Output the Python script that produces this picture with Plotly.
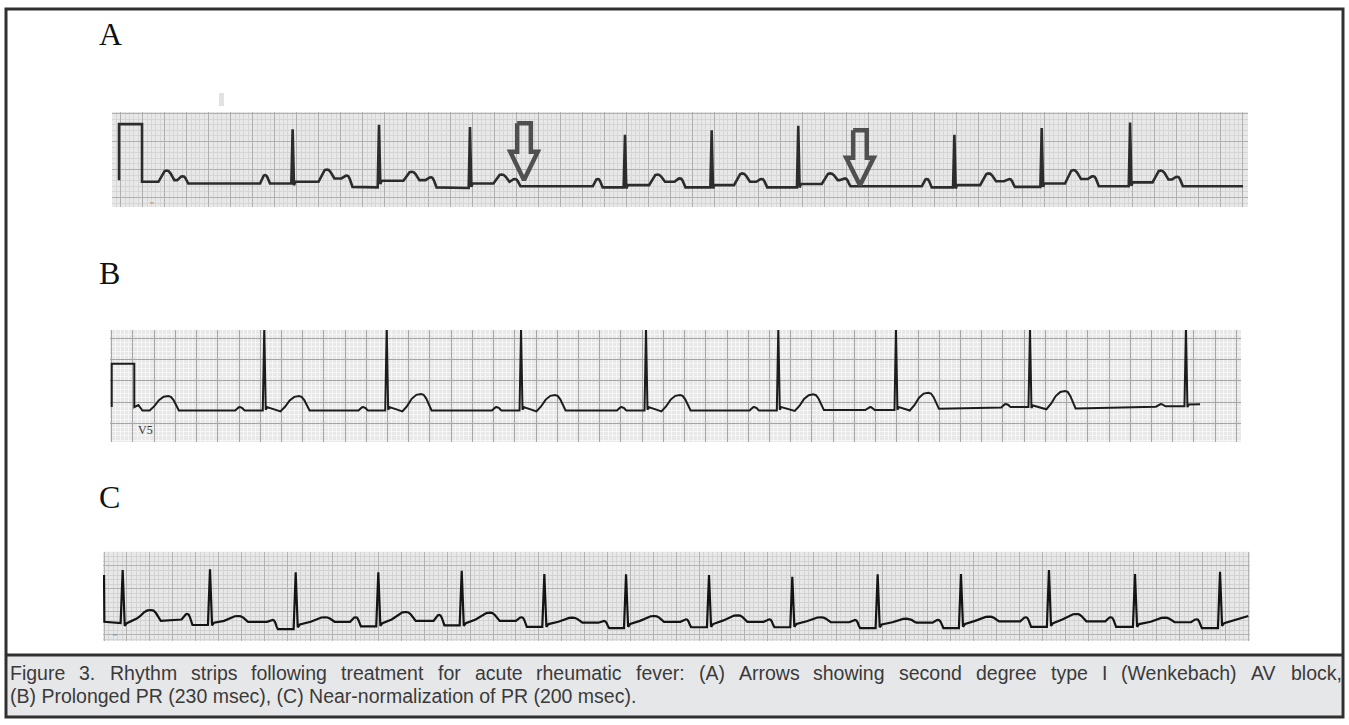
import plotly.graph_objects as go

W, H = 1349, 725

# ---------------- Strip A : Wenkebach (time in ms, amplitude in mV) ----------------
A_cal = [-15, 194, 0.81, -0.19, -0.22]          # start, end, top, left foot, right foot
A_kind = ["T", "U", "P", "R", "T", "U", "R", "T", "U", "R", "T", "U", "P", "R", "T", "U",
          "R", "T", "U", "R", "T", "U", "P", "R", "T", "U", "R", "T", "U", "R", "T", "U"]
A_t = [418, 564, 1312, 1563, 1873, 2057, 2348, 2645, 2821, 3175, 3463, 3584, 4336, 4584, 4878, 5084,
       5372, 5650, 5827, 6159, 6448, 6584, 7327, 7578, 7887, 8078, 8372, 8659, 8841, 9175, 9454, 9605]
A_peak = [-0.02, -0.12, -0.10, 0.72, 0.00, -0.11, 0.80, -0.04, -0.14, 0.76, -0.09, -0.17, -0.17, 0.62, -0.09, -0.16,
          0.70, -0.07, -0.17, 0.78, -0.07, -0.16, -0.17, 0.62, -0.07, -0.17, 0.74, -0.01, -0.12, 0.84, -0.02, -0.13]
A_fl = [-0.22, -0.19, -0.25, -0.25, -0.22, -0.16, -0.32, -0.20, -0.19, -0.33, -0.25, -0.22, -0.30, -0.32, -0.28, -0.22,
        -0.32, -0.28, -0.22, -0.32, -0.26, -0.19, -0.30, -0.32, -0.28, -0.21, -0.31, -0.25, -0.17, -0.30, -0.23, -0.18]
A_fr = [-0.19, -0.25, -0.25, -0.22, -0.16, -0.31, -0.20, -0.19, -0.32, -0.25, -0.22, -0.30, -0.32, -0.28, -0.22, -0.32,
        -0.28, -0.22, -0.32, -0.26, -0.19, -0.30, -0.32, -0.28, -0.21, -0.31, -0.25, -0.17, -0.30, -0.23, -0.18, -0.30]
A_end = [10202, -0.30]
# dropped-beat arrows (centre time, top, tip)
ARROW_t = [3666, 6720]
ARROW_top = [0.825, 0.70]
ARROW_tip = [-0.19, -0.28]

# ---------------- Strip B : prolonged PR ----------------
B_cal = [0, 213, 0.40, -0.62, -0.62]
B_kind = ["K", "K", "T", "P", "R", "T", "P", "R", "T", "P", "R", "T", "P", "R", "T", "P", "R",
          "T", "P", "R", "T", "P", "R", "T", "P", "R", "K"]
B_t = [251, 290, 533, 1209, 1438, 1765, 2371, 2592, 2915, 3629, 3858, 4178, 4807, 5036, 5356, 6057, 6283,
       6613, 7147, 7392, 7697, 8429, 8655, 8985, 9887, 10125, 10258]
B_peak = [-0.57, -0.70, -0.36, -0.62, 1.25, -0.36, -0.62, 1.25, -0.31, -0.62, 1.25, -0.335, -0.62, 1.25, -0.335, -0.62, 1.25,
          -0.32, -0.62, 1.25, -0.28, -0.55, 1.25, -0.24, -0.55, 1.25, -0.55]
B_fl = [-0.57, -0.70, -0.70, -0.70, -0.70, -0.72, -0.70, -0.70, -0.72, -0.70, -0.70, -0.72, -0.70, -0.70, -0.72, -0.70, -0.70,
        -0.71, -0.69, -0.69, -0.70, -0.63, -0.62, -0.67, -0.61, -0.60, -0.55]
B_fr = [-0.57, -0.70, -0.70, -0.70, -0.62, -0.70, -0.70, -0.62, -0.70, -0.70, -0.62, -0.70, -0.70, -0.62, -0.70, -0.70, -0.62,
        -0.69, -0.69, -0.62, -0.66, -0.62, -0.58, -0.65, -0.60, -0.56, -0.55]

# ---------------- Strip C : near-normal PR ----------------
C_kind = ["K", "K", "R", "T", "P", "R", "T", "P", "R", "T", "P", "R", "T", "P", "R", "T", "P", "R",
          "T", "P", "R", "T", "P", "R", "T", "P", "R", "T", "P", "R", "T", "P", "R", "T", "P", "R",
          "T", "P", "R", "T", "P", "R", "K"]
C_t = [0, 3, 163, 411, 728, 926, 1174, 1474, 1675, 1931, 2200, 2397, 2639, 2930, 3126, 3373, 3650, 3848,
       4096, 4370, 4562, 4809, 5086, 5287, 5538, 5814, 6015, 6266, 6563, 6761, 7015, 7291, 7489, 7737, 8057, 8258,
       8500, 8800, 9010, 9272, 9549, 9753, 10000]
C_peak = [0.80, -0.22, 0.911, 0.037, -0.05, 0.926, -0.094, -0.181, 0.861, -0.122, -0.122, 0.861, -0.007, -0.072, 0.896,
          -0.022, -0.122, 0.824, -0.131, -0.203, 0.817, -0.094, -0.166, 0.802, -0.079, -0.166, 0.765, -0.122, -0.181,
          0.817, -0.153, -0.181, 0.824, -0.109, -0.122, 0.911, -0.050, -0.122, 0.824, -0.131, -0.166, 0.874, -0.094]
C_fl = [0.80, -0.22, -0.25, -0.15, -0.17, -0.29, -0.20, -0.22, -0.38, -0.22, -0.22, -0.32, -0.17, -0.20, -0.30,
        -0.17, -0.20, -0.33, -0.22, -0.24, -0.36, -0.20, -0.22, -0.34, -0.19, -0.22, -0.34, -0.21, -0.23,
        -0.36, -0.23, -0.24, -0.36, -0.20, -0.21, -0.33, -0.17, -0.21, -0.33, -0.22, -0.23, -0.36, -0.094]
C_fr = [0.80, -0.22, -0.25, -0.20, -0.29, -0.24, -0.22, -0.38, -0.28, -0.22, -0.32, -0.25, -0.20, -0.30, -0.25,
        -0.20, -0.33, -0.27, -0.24, -0.36, -0.27, -0.22, -0.34, -0.27, -0.22, -0.34, -0.27, -0.23, -0.36,
        -0.28, -0.24, -0.36, -0.27, -0.21, -0.33, -0.25, -0.21, -0.33, -0.27, -0.23, -0.36, -0.25, -0.094]

CAPTION_1 = ("Figure 3. Rhythm strips following treatment for acute rheumatic fever: (A) Arrows showing "
             "second degree type I (Wenkebach) AV block,")
CAPTION_2 = "(B) Prolonged PR (230 msec), (C) Near-normalization of PR (200 msec)."

# ---------------- wave shape templates (style) ----------------
BUMP_DX = [-1, -0.75, -0.5, -0.25, 0, 0.25, 0.5, 0.75, 1]
BUMP_FR = [0, 0.3, 0.72, 0.95, 1, 0.95, 0.72, 0.3, 0]
SHAPE_A = {"T": (75, 70), "U": (50, 50), "P": (45, 45), "R": (12, 12)}
SHAPE_B = {"T": (175, 100), "P": (45, 45), "R": (14, 14)}
SHAPE_C = {"T": (125, 85), "P": (50, 45), "R": (18, 18)}


def build(kinds, ts, peaks, fls, frs, shape, cal=None, end=None):
    xs, ys = [], []
    if cal:
        t0, t1, top, fl, fr = cal
        xs += [t0, t0, t1, t1]
        ys += [fl, top, top, fr]
    for k, t, p, fl, fr in zip(kinds, ts, peaks, fls, frs):
        if k == "K":
            xs.append(t); ys.append(p)
        elif k == "R":
            w = shape["R"][0]
            xs += [t - w, t, t + w, t + 2 * w]
            ys += [fl, p, fr - 0.06, fr]
        else:
            wl, wr = shape[k]
            for dx, f in zip(BUMP_DX, BUMP_FR):
                if dx < 0:
                    xs.append(t + dx * wl); ys.append(fl + f * (p - fl))
                elif dx > 0:
                    xs.append(t + dx * wr); ys.append(fr + f * (p - fr))
                else:
                    xs.append(t); ys.append(p)
    if end:
        xs.append(end[0]); ys.append(end[1])
    return xs, ys


ax_, ay_ = build(A_kind, A_t, A_peak, A_fl, A_fr, SHAPE_A, cal=A_cal, end=A_end)
bx_, by_ = build(B_kind, B_t, B_peak, B_fl, B_fr, SHAPE_B, cal=B_cal)
cx_, cy_ = build(C_kind, C_t, C_peak, C_fl, C_fr, SHAPE_C)

fig = go.Figure()
fig.add_trace(go.Scatter(x=ax_, y=ay_, mode="lines", line=dict(color="#2c2c2c", width=2.6),
                         xaxis="x", yaxis="y", hoverinfo="skip", showlegend=False))
fig.add_trace(go.Scatter(x=bx_, y=by_, mode="lines", line=dict(color="#1c1c1c", width=2),
                         xaxis="x2", yaxis="y2", hoverinfo="skip", showlegend=False))
fig.add_trace(go.Scatter(x=cx_, y=cy_, mode="lines", line=dict(color="#141414", width=2.2),
                         xaxis="x3", yaxis="y3", hoverinfo="skip", showlegend=False))

# hollow arrows on strip A
SHAFT_HW, HEAD_HW, SHAFT_FRAC = 62, 125, 0.5
for t, top, tip in zip(ARROW_t, ARROW_top, ARROW_tip):
    mid = top + SHAFT_FRAC * (tip - top)
    fig.add_trace(go.Scatter(
        x=[t - SHAFT_HW, t + SHAFT_HW, t + SHAFT_HW, t + HEAD_HW, t, t - HEAD_HW, t - SHAFT_HW, t - SHAFT_HW],
        y=[top, top, mid, mid, tip, mid, mid, top],
        mode="lines", line=dict(color="#505050", width=4.5), xaxis="x", yaxis="y",
        hoverinfo="skip", showlegend=False))


def px_dom_x(a, b):
    return [a / W, b / W]


def px_dom_y(top, bottom):
    return [1 - bottom / H, 1 - top / H]


def xaxis(dom, rng, anchor, major_c, minor_c):
    return dict(domain=dom, range=rng, anchor=anchor, showgrid=True, gridcolor=major_c, gridwidth=1.3,
                tick0=0, dtick=200, minor=dict(tick0=0, dtick=40, showgrid=True, gridcolor=minor_c, gridwidth=1),
                showticklabels=False, ticks="", zeroline=False, showline=False, fixedrange=True)


def yaxis(dom, rng, anchor, major_c, minor_c):
    return dict(domain=dom, range=rng, anchor=anchor, showgrid=True, gridcolor=major_c, gridwidth=1.3,
                tick0=0, dtick=0.5, minor=dict(tick0=0, dtick=0.1, showgrid=True, gridcolor=minor_c, gridwidth=1),
                showticklabels=False, ticks="", zeroline=False, showline=False, fixedrange=True)


fig.update_layout(
    width=W, height=H, autosize=False, margin=dict(l=0, r=0, t=0, b=0),
    paper_bgcolor="white", plot_bgcolor="#e8e8e8",
    xaxis=xaxis(px_dom_x(112, 1248), [-79, 10247], "y", "#b0b0b0", "#d6d6d6"),
    yaxis=yaxis(px_dom_y(112, 207), [-0.670, 1.027], "x", "#b0b0b0", "#d6d6d6"),
    xaxis2=xaxis(px_dom_x(110, 1241), [-16, 10644], "y2", "#a6a6a6", "#f6f6f6"),
    yaxis2=yaxis(px_dom_y(330, 442), [-1.442, 1.197], "x2", "#a6a6a6", "#f6f6f6"),
    xaxis3=xaxis(px_dom_x(103, 1250), [-9, 10015], "y3", "#b3b3b3", "#d3d3d3"),
    yaxis3=yaxis(px_dom_y(551.7, 641), [-0.640, 1.311], "x3", "#b3b3b3", "#d3d3d3"),
)

shapes = [
    dict(type="rect", xref="paper", yref="paper", x0=7.5 / W, x1=1341.5 / W, y0=1 - 716 / H, y1=1 - 656 / H,
         fillcolor="#e6e7e8", line=dict(width=0), layer="below"),
    dict(type="rect", xref="paper", yref="paper", x0=6 / W, x1=1343 / W, y0=1 - 717 / H, y1=1 - 9 / H,
         line=dict(color="#303030", width=3)),
    dict(type="line", xref="paper", yref="paper", x0=6 / W, x1=1343 / W, y0=1 - 655 / H, y1=1 - 655 / H,
         line=dict(color="#303030", width=3)),
    dict(type="rect", xref="paper", yref="paper", x0=219 / W, x1=224 / W, y0=1 - 106 / H, y1=1 - 93 / H,
         fillcolor="#e2e2e2", line=dict(width=0)),
]
fig.update_layout(shapes=shapes)

serif = "Liberation Serif, Times New Roman, serif"
ann = []
for lab, yc in [("A", 34), ("B", 273), ("C", 497)]:
    ann.append(dict(text=lab, xref="paper", yref="paper", x=97 / W, y=1 - yc / H, xanchor="left",
                    yanchor="middle", showarrow=False, font=dict(family=serif, size=32, color="#111111")))
ann.append(dict(text="V5", xref="paper", yref="paper", x=145 / W, y=1 - 430 / H, xanchor="center",
                yanchor="middle", showarrow=False, font=dict(family=serif, size=12, color="#333333")))
for mx, my in [(152, 205), (115, 637)]:
    ann.append(dict(text="''", xref="paper", yref="paper", x=mx / W, y=1 - my / H, xanchor="center",
                    yanchor="middle", showarrow=False, font=dict(family="DejaVu Sans", size=7, color="#555555")))

# caption: first line justified across the box (Arial / Liberation Sans advance widths, 1/1000 em)
ARIAL = {" ": 278, "(": 333, ")": 333, ",": 278, "-": 333, ".": 278, ":": 278,
         "A": 667, "B": 667, "C": 722, "F": 611, "I": 278, "N": 722, "P": 667, "R": 722, "V": 667, "W": 944,
         "a": 556, "b": 556, "c": 500, "d": 556, "e": 556, "f": 278, "g": 556, "h": 556, "i": 222, "k": 500,
         "l": 222, "m": 833, "n": 556, "o": 556, "p": 556, "r": 333, "s": 500, "t": 278, "u": 556, "v": 500,
         "w": 722, "y": 500, "z": 500}
CAP_SIZE = 19.5
cap_font = dict(family="Liberation Sans, Arial, sans-serif", size=CAP_SIZE, color="#3a3a3a")


def tw(s):
    return sum(ARIAL.get(ch, 556) for ch in s) * CAP_SIZE / 1000.0


words = CAPTION_1.split(" ")
left, right = 8.0, 1340.0
gap = (right - left - sum(tw(w) for w in words)) / (len(words) - 1)
xpos = left
for wd in words:
    ann.append(dict(text=wd, xref="paper", yref="paper", x=xpos / W, y=1 - 673 / H, xanchor="left",
                    yanchor="middle", showarrow=False, font=cap_font))
    xpos += tw(wd) + gap
ann.append(dict(text=CAPTION_2, xref="paper", yref="paper", x=left / W, y=1 - 696 / H, xanchor="left",
                yanchor="middle", showarrow=False, font=cap_font))
fig.update_layout(annotations=ann)

fig.write_html("out.html", config={"displayModeBar": False},
               post_script="document.body.style.margin='0px';document.body.style.overflow='hidden';")
